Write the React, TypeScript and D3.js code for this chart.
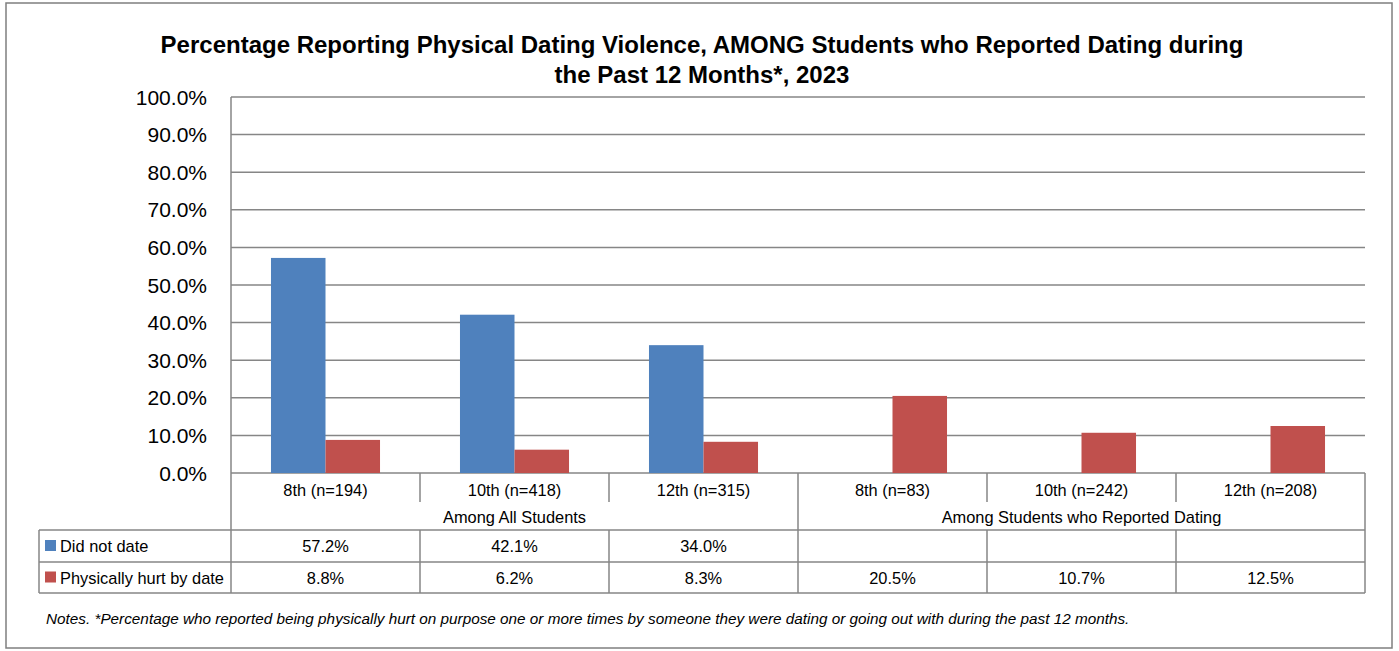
import React, { useEffect, useRef } from 'react';
import * as d3 from 'd3';

const categories = ['8th (n=194)', '10th (n=418)', '12th (n=315)', '8th (n=83)', '10th (n=242)', '12th (n=208)'];
const groups = [
  { label: 'Among All Students', from: 0, to: 2 },
  { label: 'Among Students who Reported Dating', from: 3, to: 5 },
];
const seriesNames = ['Did not date', 'Physically hurt by date'];
const didNotDate: (number | null)[] = [57.2, 42.1, 34.0, null, null, null];
const physicallyHurt: (number | null)[] = [8.8, 6.2, 8.3, 20.5, 10.7, 12.5];
const yTicks = [0, 10, 20, 30, 40, 50, 60, 70, 80, 90, 100];
const colors = ['#4F81BD', '#C0504D'];
const titleLines = [
  'Percentage Reporting Physical Dating Violence, AMONG Students who Reported Dating during',
  'the Past 12 Months*, 2023',
];
const note = 'Notes. *Percentage who reported being physically hurt on purpose one or more times by someone they were dating or going out with during the past 12 months.';

const W = 1399;
const H = 651;
const FONT = '"Liberation Sans", Arial, sans-serif';

export default function App() {
  const ref = useRef<SVGSVGElement>(null);

  useEffect(() => {
    const svg = d3.select(ref.current);
    svg.selectAll('*').remove();

    const plot = { left: 231, right: 1365, top: 97, bottom: 473 };
    const tableLeft = 39;
    const rowCat = 502;
    const rowGroup = 530;
    const row1 = 562;
    const row2 = 593;
    const lineColor = '#868686';
    const tableFont = 16.4;

    svg.append('rect')
      .attr('x', 6).attr('y', 3).attr('width', 1386).attr('height', 645)
      .attr('fill', '#fff').attr('stroke', '#7f7f7f').attr('stroke-width', 1.5);

    // Title
    titleLines.forEach((t, i) => {
      svg.append('text')
        .attr('x', 702).attr('y', 53 + i * 30)
        .attr('text-anchor', 'middle')
        .attr('font-family', FONT).attr('font-weight', 'bold').attr('font-size', 24)
        .attr('fill', '#000')
        .text(t);
    });

    const y = d3.scaleLinear().domain([0, 100]).range([plot.bottom, plot.top]);
    const x = d3.scaleBand<number>().domain(d3.range(categories.length)).range([plot.left, plot.right]).paddingInner(0).paddingOuter(0);
    const bw = x.bandwidth();
    const inner = d3.scaleBand<number>().domain([0, 1]).range([0, bw]).paddingOuter(0.7333).paddingInner(0);

    // Gridlines + y labels
    yTicks.forEach(t => {
      svg.append('line')
        .attr('x1', plot.left).attr('x2', plot.right)
        .attr('y1', y(t)).attr('y2', y(t))
        .attr('stroke', lineColor).attr('stroke-width', 1.5);
      svg.append('text')
        .attr('x', 207).attr('y', y(t))
        .attr('dy', '0.36em')
        .attr('text-anchor', 'end')
        .attr('font-family', FONT).attr('font-size', 21)
        .attr('fill', '#000')
        .text(`${t.toFixed(1)}%`);
    });
    svg.append('line')
      .attr('x1', plot.left).attr('x2', plot.left)
      .attr('y1', plot.top).attr('y2', plot.bottom)
      .attr('stroke', lineColor).attr('stroke-width', 1.5);

    // Bars
    const series = [didNotDate, physicallyHurt];
    series.forEach((vals, s) => {
      vals.forEach((v, i) => {
        if (v == null) return;
        svg.append('rect')
          .attr('x', (x(i) as number) + (inner(s) as number))
          .attr('y', y(v))
          .attr('width', inner.bandwidth())
          .attr('height', y(0) - y(v))
          .attr('fill', colors[s]);
      });
    });

    // Data table
    const tg = svg.append('g').attr('stroke', lineColor).attr('stroke-width', 1.5);
    const bounds = categories.map((_, i) => x(i) as number).concat([plot.right]);
    bounds.forEach((bx, i) => {
      const isGroupEdge = i === 0 || i === bounds.length - 1 || groups.some(g => g.from === i);
      tg.append('line')
        .attr('x1', bx).attr('x2', bx)
        .attr('y1', plot.bottom).attr('y2', isGroupEdge ? row2 : rowCat);
      if (!isGroupEdge) {
        tg.append('line').attr('x1', bx).attr('x2', bx).attr('y1', rowGroup).attr('y2', row2);
      }
    });
    tg.append('line').attr('x1', tableLeft).attr('x2', tableLeft).attr('y1', rowGroup).attr('y2', row2);
    [rowGroup, row1, row2].forEach(ry => {
      tg.append('line').attr('x1', tableLeft).attr('x2', plot.right).attr('y1', ry).attr('y2', ry);
    });

    categories.forEach((c, i) => {
      svg.append('text')
        .attr('x', (x(i) as number) + bw / 2).attr('y', 496)
        .attr('text-anchor', 'middle')
        .attr('font-family', FONT).attr('font-size', tableFont)
        .text(c);
    });
    groups.forEach(g => {
      const cx = ((x(g.from) as number) + (x(g.to) as number) + bw) / 2;
      svg.append('text')
        .attr('x', cx).attr('y', 523)
        .attr('text-anchor', 'middle')
        .attr('font-family', FONT).attr('font-size', tableFont)
        .text(g.label);
    });

    series.forEach((vals, s) => {
      const ry = s === 0 ? rowGroup : row1;
      const rh = (s === 0 ? row1 : row2) - ry;
      svg.append('rect')
        .attr('x', 45).attr('y', ry + rh / 2 - 6)
        .attr('width', 11).attr('height', 11)
        .attr('fill', colors[s]);
      svg.append('text')
        .attr('x', 60).attr('y', ry + rh / 2 + 6)
        .attr('font-family', FONT).attr('font-size', tableFont)
        .text(seriesNames[s]);
      vals.forEach((v, i) => {
        if (v == null) return;
        svg.append('text')
          .attr('x', (x(i) as number) + bw / 2).attr('y', ry + rh / 2 + 6)
          .attr('text-anchor', 'middle')
          .attr('font-family', FONT).attr('font-size', tableFont)
          .text(`${v.toFixed(1)}%`);
      });
    });

    svg.append('text')
      .attr('x', 46).attr('y', 624)
      .attr('font-family', FONT).attr('font-style', 'italic').attr('font-size', 15.3)
      .text(note);
  }, []);

  return (
    <div style={{ position: 'absolute', left: 0, top: 0 }}>
      <svg ref={ref} width={W} height={H} style={{ display: 'block', background: '#fff' }} />
    </div>
  );
}
